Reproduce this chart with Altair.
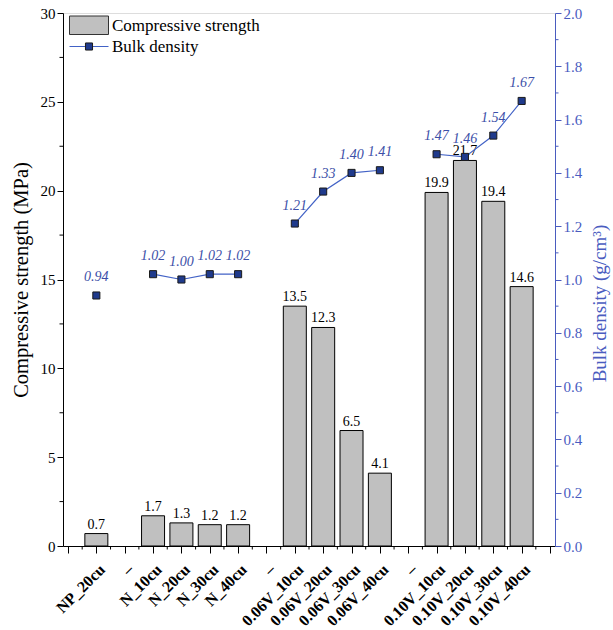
import json
import altair as alt
import pandas as pd

categories = ["NP_20cu", "–", "N_10cu", "N_20cu", "N_30cu", "N_40cu", "–",
              "0.06V_10cu", "0.06V_20cu", "0.06V_30cu", "0.06V_40cu", "–",
              "0.10V_10cu", "0.10V_20cu", "0.10V_30cu", "0.10V_40cu"]
strength = [0.7, None, 1.7, 1.3, 1.2, 1.2, None, 13.5, 12.3, 6.5, 4.1, None,
            19.9, 21.7, 19.4, 14.6]
density = [0.94, None, 1.02, 1.00, 1.02, 1.02, None, 1.21, 1.33, 1.40, 1.41, None,
           1.47, 1.46, 1.54, 1.67]
groups = ["NP", None, "N", "N", "N", "N", None, "0.06V", "0.06V", "0.06V", "0.06V",
          None, "0.10V", "0.10V", "0.10V", "0.10V"]
legend_labels = ["Compressive strength", "Bulk density"]

left_ticks = [0, 5, 10, 15, 20, 25, 30]
left_minor = [2.5, 7.5, 12.5, 17.5, 22.5, 27.5]
right_ticks = [0.0, 0.2, 0.4, 0.6, 0.8, 1.0, 1.2, 1.4, 1.6, 1.8, 2.0]
right_minor = [0.1, 0.3, 0.5, 0.7, 0.9, 1.1, 1.3, 1.5, 1.7, 1.9]

FONT = "Liberation Serif"
BLUE_AXIS = "#4a5cbf"
BLUE_LINE = "#4262c6"
BLUE_TEXT = "#3c4fa8"
SQ_FILL = "#1f3a8c"

n = len(categories)
df = pd.DataFrame({
    "idx": list(range(1, n + 1)),
    "category": categories,
    "strength": strength,
    "density": density,
    "group": groups,
})

x_values = list(range(0, n + 2))
x_minor = [i + 0.5 for i in range(0, n + 1)]
label_arr = json.dumps([""] + categories + [""], ensure_ascii=False)

xenc = alt.X(
    "idx:Q",
    scale=alt.Scale(domain=[0, n + 1], nice=False, zero=False),
    axis=alt.Axis(
        values=x_values, labelExpr=f"{label_arr}[datum.value]", labelAngle=-45,
        labelAlign="right", labelBaseline="top",
        labelFont=FONT, labelFontWeight="bold", labelFontSize=16, labelColor="black",
        tickSize=7, tickColor="black", domainColor="black", grid=False, title=None,
        labelOverlap=False, labelPadding=8, labelBound=False, labelFlush=False,
    ),
)

ystr = alt.Y(
    "strength:Q",
    scale=alt.Scale(domain=[0, 30], nice=False),
    axis=alt.Axis(
        values=left_ticks, orient="left", title="Compressive strength (MPa)",
        titleFont=FONT, titleFontSize=20.5, titleFontWeight="normal", titleColor="black",
        labelFont=FONT, labelFontSize=15, labelColor="black", tickSize=6,
        tickColor="black", domainColor="black", grid=False, titlePadding=9,
    ),
)

yden = alt.Y(
    "density:Q",
    scale=alt.Scale(domain=[0, 2], nice=False),
    axis=alt.Axis(
        values=right_ticks, orient="right", title="Bulk density (g/cm³)", format=".1f",
        titleFont=FONT, titleFontSize=19, titleFontWeight="normal", titleColor=BLUE_AXIS,
        titleAngle=-90, titleBaseline="top", titleY=290,
        labelFont=FONT, labelFontSize=15, labelColor=BLUE_AXIS, tickSize=6,
        tickColor=BLUE_AXIS, domainColor=BLUE_AXIS, grid=False, titlePadding=9,
    ),
)

base = alt.Chart(df)

bars = base.transform_filter("isValid(datum.strength)").mark_bar(
    size=23, color="#c0c0c0", stroke="black", strokeWidth=1
).encode(x=xenc, y=ystr)

bar_text = base.transform_filter("isValid(datum.strength)").mark_text(
    font=FONT, fontSize=14, color="black", baseline="bottom", dy=-2
).encode(x=xenc, y="strength:Q", text=alt.Text("strength:Q", format=".1f"))

bar_layer = alt.layer(bars, bar_text)

dbase = base.transform_filter("isValid(datum.density)")
line = dbase.mark_line(color=BLUE_LINE, strokeWidth=1.2).encode(
    x=xenc, y=yden, detail="group:N", order="idx:Q"
)
pts = dbase.mark_point(
    shape="square", size=50, filled=True, fill=SQ_FILL, stroke="#1a1a1a",
    strokeWidth=1, opacity=1
).encode(x=xenc, y="density:Q")
dtext = dbase.mark_text(
    font=FONT, fontSize=14, fontStyle="italic", color=BLUE_TEXT, baseline="middle", dy=-18
).encode(x=xenc, y="density:Q", text=alt.Text("density:Q", format=".2f"))

den_layer = alt.layer(line, pts, dtext)

lm = alt.Chart(pd.DataFrame({"v": left_minor})).mark_rule(color="black").encode(
    y=alt.Y("v:Q", scale=alt.Scale(domain=[0, 30], nice=False), axis=None),
    x=alt.value(-3.5), x2=alt.value(0),
)
rm = alt.Chart(pd.DataFrame({"v": right_minor})).mark_rule(color=BLUE_AXIS).encode(
    y=alt.Y("v:Q", scale=alt.Scale(domain=[0, 2], nice=False), axis=None),
    x=alt.value(492), x2=alt.value(495.5),
)
xm = alt.Chart(pd.DataFrame({"idx": x_minor})).mark_rule(color="black").encode(
    x=xenc, y=alt.value(533), y2=alt.value(536.5),
)

leg_df = pd.DataFrame({"label": legend_labels})
leg_rect = alt.Chart(leg_df).transform_filter(
    alt.datum.label == legend_labels[0]
).mark_rect(fill="#c0c0c0", stroke="#333333", strokeWidth=1).encode(
    x=alt.value(6.5), x2=alt.value(45.5), y=alt.value(3), y2=alt.value(21.5)
)
leg_t1 = alt.Chart(leg_df).transform_filter(
    alt.datum.label == legend_labels[0]
).mark_text(font=FONT, fontSize=17, align="left", baseline="middle", color="black").encode(
    x=alt.value(49), y=alt.value(12.5), text="label:N"
)
leg_line = alt.Chart(leg_df).transform_filter(
    alt.datum.label == legend_labels[1]
).mark_rule(color=BLUE_LINE, strokeWidth=1.2).encode(
    x=alt.value(6.5), x2=alt.value(45.5), y=alt.value(33.5)
)
leg_pt = alt.Chart(leg_df).transform_filter(
    alt.datum.label == legend_labels[1]
).mark_point(shape="square", size=50, filled=True, fill=SQ_FILL, stroke="#1a1a1a",
             strokeWidth=1, opacity=1).encode(x=alt.value(26), y=alt.value(33.5))
leg_t2 = alt.Chart(leg_df).transform_filter(
    alt.datum.label == legend_labels[1]
).mark_text(font=FONT, fontSize=17, align="left", baseline="middle", color="black").encode(
    x=alt.value(49), y=alt.value(33.5), text="label:N"
)

chart = alt.layer(
    bar_layer, den_layer, lm, rm, xm, leg_rect, leg_t1, leg_line, leg_pt, leg_t2
).resolve_scale(y="independent").properties(
    width=492, height=533,
    autosize=alt.AutoSizeParams(type="none"),
    padding={"left": 63, "top": 13, "right": 58, "bottom": 84},
).configure_view(stroke=None).configure(background="white")

chart.save("out.html", embed_options={"renderer": "svg", "actions": False})
